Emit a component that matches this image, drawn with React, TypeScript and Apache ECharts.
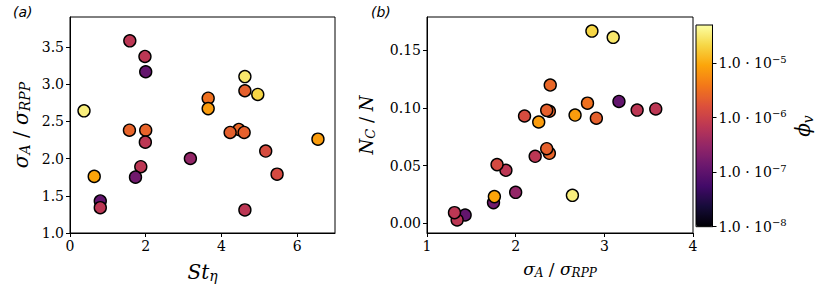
import React, { useEffect, useRef } from "react";
import * as echarts from "echarts";

// Per-run data (same order in both panels)
const stEta = [1.58, 1.98, 2.0, 4.62, 4.62, 4.96, 0.37, 3.65, 3.65, 1.57, 2.0, 1.99, 4.46, 4.23, 4.6, 6.55, 5.17, 3.18, 1.87, 1.73, 0.64, 5.47, 0.8, 0.8, 4.62];
const sigmaRatio = [3.58, 3.37, 3.165, 3.1, 2.91, 2.86, 2.64, 2.81, 2.67, 2.38, 2.38, 2.22, 2.39, 2.35, 2.35, 2.26, 2.1, 2.0, 1.89, 1.75, 1.76, 1.79, 1.43, 1.34, 1.31];
const ncRatio = [0.099, 0.098, 0.1055, 0.161, 0.091, 0.1664, 0.0242, 0.104, 0.0937, 0.097, 0.0606, 0.058, 0.1197, 0.0978, 0.0646, 0.0877, 0.0929, 0.0268, 0.0459, 0.0179, 0.0231, 0.0508, 0.0072, 0.0029, 0.0092];
const phiV = [7.1e-7, 7.1e-7, 1.1e-7, 3.0e-5, 2.3e-6, 2.1e-5, 3.5e-5, 3.3e-6, 7.7e-6, 2.5e-6, 2.5e-6, 7.1e-7, 2.7e-6, 2.3e-6, 2.3e-6, 7.7e-6, 1.4e-6, 3.0e-7, 7.1e-7, 1.5e-7, 9.1e-6, 1.3e-6, 1.1e-7, 7.1e-7, 7.1e-7];

const xTicksA = [0, 2, 4, 6];
const yTicksA = [1.0, 1.5, 2.0, 2.5, 3.0, 3.5];
const xTicksB = [1, 2, 3, 4];
const yTicksB = [0, 0.05, 0.1, 0.15];
const cbarExponents = [-8, -7, -6, -5];

const inferno = ["#000004", "#160b39", "#420a68", "#6a176e", "#932667", "#bc3754", "#dd513a", "#f37819", "#fca50a", "#f6d746", "#fcffa4"];

const SERIF = "DejaVu Serif";

export default function App() {
  const ref = useRef<HTMLDivElement>(null);
  useEffect(() => {
    document.body.style.margin = "0";
    if (!ref.current) return;
    const chart = echarts.init(ref.current, undefined, { renderer: "svg" });

    const logPhi = phiV.map((p) => Math.log10(p));
    const dataA = stEta.map((s, i) => [s, sigmaRatio[i], logPhi[i]]);
    const dataB = sigmaRatio.map((s, i) => [s, ncRatio[i], logPhi[i]]);

    const axisCommon = {
      axisLine: { show: true, onZero: false, lineStyle: { color: "#000", width: 1 } },
      axisTick: { show: true, length: 4, lineStyle: { color: "#000", width: 1 } },
      splitLine: { show: false },
      axisLabel: { color: "#000", fontFamily: SERIF, fontSize: 14, margin: 6 },
    };
    const subRich = (size: number) => ({
      m: { fontFamily: SERIF, fontStyle: "italic", fontSize: size, color: "#000" },
      n: { fontFamily: SERIF, fontSize: size, color: "#000" },
      sub: { fontFamily: SERIF, fontStyle: "italic", fontSize: Math.round(size * 0.7), color: "#000", padding: [Math.round(size * 0.45), 0, 0, 0] },
    });

    const option: any = {
      animation: false,
      textStyle: { fontFamily: SERIF },
      grid: [
        { left: 70, top: 17, width: 265, height: 216, show: true, borderColor: "#000", borderWidth: 1, backgroundColor: "transparent" },
        { left: 427, top: 17, width: 266, height: 216, show: true, borderColor: "#000", borderWidth: 1, backgroundColor: "transparent" },
        { left: 696, top: 25, width: 16.5, height: 201.7, show: true, borderColor: "#000", borderWidth: 1, backgroundColor: "transparent", z: 10 },
      ],
      xAxis: [
        {
          ...axisCommon, gridIndex: 0, type: "value", min: 0, max: 7,
          axisTick: { ...axisCommon.axisTick, customValues: xTicksA },
          axisLabel: { ...axisCommon.axisLabel, customValues: xTicksA, formatter: (v: number) => String(v) },
          name: "{m|St}{sub|η}", nameLocation: "middle", nameGap: 27,
          nameTextStyle: { fontFamily: SERIF, rich: subRich(20) },
        },
        {
          ...axisCommon, gridIndex: 1, type: "value", min: 1, max: 4,
          axisTick: { ...axisCommon.axisTick, customValues: xTicksB },
          axisLabel: { ...axisCommon.axisLabel, customValues: xTicksB, formatter: (v: number) => String(v) },
          name: "{m|σ}{sub|A}{n| / }{m|σ}{sub|RPP}", nameLocation: "middle", nameGap: 26,
          nameTextStyle: { fontFamily: SERIF, rich: subRich(17) },
        },
        { gridIndex: 2, type: "value", min: 0, max: 1, show: false },
      ],
      yAxis: [
        {
          ...axisCommon, gridIndex: 0, type: "value", min: 1, max: 3.9,
          axisTick: { ...axisCommon.axisTick, customValues: yTicksA },
          axisLabel: { ...axisCommon.axisLabel, customValues: yTicksA, formatter: (v: number) => v.toFixed(1) },
          name: "{m|σ}{sub|A}{n| / }{m|σ}{sub|RPP}", nameLocation: "middle", nameGap: 38,
          nameTextStyle: { fontFamily: SERIF, rich: subRich(20) },
        },
        {
          ...axisCommon, gridIndex: 1, type: "value", min: -0.0084, max: 0.1786,
          axisTick: { ...axisCommon.axisTick, customValues: yTicksB },
          axisLabel: { ...axisCommon.axisLabel, customValues: yTicksB, formatter: (v: number) => v.toFixed(2) },
          name: "{m|N}{sub|C}{n| / }{m|N}", nameLocation: "middle", nameGap: 50,
          nameTextStyle: { fontFamily: SERIF, rich: subRich(18) },
        },
        {
          ...axisCommon, gridIndex: 2, type: "value", min: -8, max: -4.3, position: "right",
          axisTick: { ...axisCommon.axisTick, customValues: cbarExponents },
          axisLabel: {
            ...axisCommon.axisLabel, customValues: cbarExponents,
            formatter: (v: number) => `{b|1.0 · 10}{s|−${Math.abs(v)}}`,
            rich: {
              b: { fontFamily: SERIF, fontSize: 14, color: "#000" },
              s: { fontFamily: SERIF, fontSize: 10, color: "#000", padding: [0, 0, 8, 0] },
            },
          },
        },
      ],
      visualMap: {
        type: "continuous",
        min: -8,
        max: -4.3,
        dimension: 2,
        seriesIndex: [0, 1],
        inRange: { color: inferno },
        show: true,
        calculable: false,
        hoverLink: false,
        left: 696,
        top: 25,
        padding: 0,
        itemWidth: 16.5,
        itemHeight: 201.7,
        text: null,
      },
      graphic: [
        { type: "text", left: 13, top: 5, style: { text: "(a)", fontFamily: "DejaVu Sans", fontStyle: "italic", fontSize: 14, fill: "#000" } },
        { type: "text", left: 371, top: 5, style: { text: "(b)", fontFamily: "DejaVu Sans", fontStyle: "italic", fontSize: 14, fill: "#000" } },
        {
          type: "text", x: 803, y: 126, rotation: Math.PI / 2,
          style: {
            text: "{m|ϕ}{sub|v}", align: "center", verticalAlign: "middle",
            rich: subRich(20),
          },
        },
      ],
      series: [
        {
          type: "scatter", xAxisIndex: 0, yAxisIndex: 0, data: dataA, symbolSize: 12,
          itemStyle: { borderColor: "#000", borderWidth: 1.4, opacity: 1 },
        },
        {
          type: "scatter", xAxisIndex: 1, yAxisIndex: 1, data: dataB, symbolSize: 12,
          itemStyle: { borderColor: "#000", borderWidth: 1.4, opacity: 1 },
        },
        { type: "scatter", xAxisIndex: 2, yAxisIndex: 2, data: [] },
      ],
    };
    chart.setOption(option);
    return () => chart.dispose();
  }, []);
  return <div ref={ref} style={{ width: 830, height: 298 }} />;
}
